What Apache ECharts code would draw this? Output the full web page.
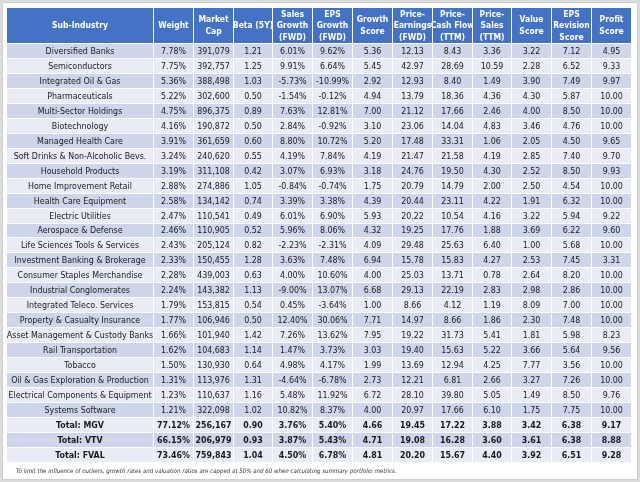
<!DOCTYPE html>
<html><head><meta charset="utf-8">
<script src="https://cdn.jsdelivr.net/npm/echarts@6/dist/echarts.min.js"></script>
<style>html,body{margin:0;padding:0;background:#dcdcdc;}#c{width:640px;height:482px;}</style>
</head><body><div id="c"></div>
<script>
const headers = ['Sub-Industry','Weight','Market\nCap','Beta (5Y)','Sales\nGrowth\n(FWD)','EPS\nGrowth\n(FWD)','Growth\nScore','Price-\nEarnings\n(FWD)','Price-\nCash Flow\n(TTM)','Price-\nSales\n(TTM)','Value\nScore','EPS\nRevision\nScore','Profit\nScore'];
const subIndustries = ['Diversified Banks','Semiconductors','Integrated Oil & Gas','Pharmaceuticals','Multi-Sector Holdings','Biotechnology','Managed Health Care','Soft Drinks & Non-Alcoholic Bevs.','Household Products','Home Improvement Retail','Health Care Equipment','Electric Utilities','Aerospace & Defense','Life Sciences Tools & Services','Investment Banking & Brokerage','Consumer Staples Merchandise','Industrial Conglomerates','Integrated Teleco. Services','Property & Casualty Insurance','Asset Management & Custody Banks','Rail Transportation','Tobacco','Oil & Gas Exploration & Production','Electrical Components & Equipment','Systems Software','Total: MGV','Total: VTV','Total: FVAL'];
const weight = [7.78,7.75,5.36,5.22,4.75,4.16,3.91,3.24,3.19,2.88,2.58,2.47,2.46,2.43,2.33,2.28,2.24,1.79,1.77,1.66,1.62,1.50,1.31,1.23,1.21,77.12,66.15,73.46];
const marketCap = [391079,392757,388498,302600,896375,190872,361659,240620,311108,274886,134142,110541,110905,205124,150455,439003,143382,153815,106946,101940,104683,130930,113976,110637,322098,256167,206979,759843];
const beta = [1.21,1.25,1.03,0.50,0.89,0.50,0.60,0.55,0.42,1.05,0.74,0.49,0.52,0.82,1.28,0.63,1.13,0.54,0.50,1.42,1.14,0.64,1.31,1.16,1.02,0.90,0.93,1.04];
const salesGrowth = [6.01,9.91,-5.73,-1.54,7.63,2.84,8.80,4.19,3.07,-0.84,3.39,6.01,5.96,-2.23,3.63,4.00,-9.00,0.45,12.40,7.26,1.47,4.98,-4.64,5.48,10.82,3.76,3.87,4.50];
const epsGrowth = [9.62,6.64,-10.99,-0.12,12.81,-0.92,10.72,7.84,6.93,-0.74,3.38,6.90,8.06,-2.31,7.48,10.60,13.07,-3.64,30.06,13.62,3.73,4.17,-6.78,11.92,8.37,5.40,5.43,6.78];
const growthScore = [5.36,5.45,2.92,4.94,7.00,3.10,5.20,4.19,3.18,1.75,4.39,5.93,4.32,4.09,6.94,4.00,6.68,1.00,7.71,7.95,3.03,1.99,2.73,6.72,4.00,4.66,4.71,4.81];
const peFwd = [12.13,42.97,12.93,13.79,21.12,23.06,17.48,21.47,24.76,20.79,20.44,20.22,19.25,29.48,15.78,25.03,29.13,8.66,14.97,19.22,19.40,13.69,12.21,28.10,20.97,19.45,19.08,20.20];
const pcfTtm = [8.43,28.69,8.40,18.36,17.66,14.04,33.31,21.58,19.50,14.79,23.11,10.54,17.76,25.63,15.83,13.71,22.19,4.12,8.66,31.73,15.63,12.94,6.81,39.80,17.66,17.22,16.28,15.67];
const psTtm = [3.36,10.59,1.49,4.36,2.46,4.83,1.06,4.19,4.30,2.00,4.22,4.16,1.88,6.40,4.27,0.78,2.83,1.19,1.86,5.41,5.22,4.25,2.66,5.05,6.10,3.88,3.60,4.40];
const valueScore = [3.22,2.28,3.90,4.30,4.00,3.46,2.05,2.85,2.52,2.50,1.91,3.22,3.69,1.00,2.53,2.64,2.98,8.09,2.30,1.81,3.66,7.77,3.27,1.49,1.75,3.42,3.61,3.92];
const epsRevisionScore = [7.12,6.52,7.49,5.87,8.50,4.76,4.50,7.40,8.50,4.54,6.32,5.94,6.22,5.68,7.45,8.20,2.86,7.00,7.48,5.98,5.64,3.56,7.26,8.50,7.75,6.38,6.38,6.51];
const profitScore = [4.95,9.33,9.97,10.00,10.00,10.00,9.65,9.70,9.93,10.00,10.00,9.22,9.60,10.00,3.31,10.00,10.00,10.00,10.00,8.23,9.56,10.00,10.00,9.76,10.00,9.17,8.88,9.28];
const footnote = 'To limit the influence of outliers, growth rates and valuation ratios are capped at 50% and 60 when calculating summary portfolio metrics.';

const numCols = [weight, marketCap, beta, salesGrowth, epsGrowth, growthScore, peFwd, pcfTtm, psTtm, valueScore, epsRevisionScore, profitScore];
const fmt = [
  v => v.toFixed(2) + '%',
  v => v.toLocaleString('en-US'),
  v => v.toFixed(2),
  v => v.toFixed(2) + '%',
  v => v.toFixed(2) + '%',
  v => v.toFixed(2), v => v.toFixed(2), v => v.toFixed(2), v => v.toFixed(2), v => v.toFixed(2), v => v.toFixed(2), v => v.toFixed(2)
];
const nRows = subIndustries.length;
const totalStart = 25;

// layout (not data)
const colWidths = [147].concat(new Array(12).fill(39.83));
const edges = [0];
colWidths.forEach(w => edges.push(edges[edges.length - 1] + w));
const headerH = 36, rowH = 14.96;
const tableW = edges[edges.length - 1];
const tableH = headerH + nRows * rowH;

const cells = [];
for (let c = 0; c < 13; c++) cells.push([c, -1]);
for (let r = 0; r < nRows; r++) for (let c = 0; c < 13; c++) cells.push([c, r]);

const FONT = "'DejaVu Sans Condensed','DejaVu Sans',sans-serif";

function cellText(c, r) {
  if (r < 0) return headers[c];
  if (c === 0) return subIndustries[r];
  return fmt[c - 1](numCols[c - 1][r]);
}

function renderItem(params, api) {
  const c = api.value(0), r = api.value(1);
  const x0 = edges[c], x1 = edges[c + 1];
  const y0 = r < 0 ? 0 : headerH + r * rowH;
  const y1 = r < 0 ? headerH : y0 + rowH;
  const p0 = api.coord([x0, y0]), p1 = api.coord([x1, y1]);
  const x = Math.round(Math.min(p0[0], p1[0])), y = Math.round(Math.min(p0[1], p1[1]));
  const xe = Math.round(Math.max(p0[0], p1[0])), ye = Math.round(Math.max(p0[1], p1[1]));
  const w = xe - x, h = ye - y;
  const isHeader = r < 0;
  const fill = isHeader ? '#4472C4' : (r % 2 === 0 ? '#CFD5EA' : '#E9EBF5');
  const bold = isHeader || r >= totalStart;
  return {
    type: 'group',
    children: [
      { type: 'rect', shape: { x: x, y: y, width: w - 1, height: h - 1 }, style: { fill: fill } },
      { type: 'text', style: {
          text: cellText(c, r), x: x + (w - 1) / 2, y: y + (h - 1) / 2 + 0.5,
          align: 'center', verticalAlign: 'middle',
          fill: isHeader ? '#ffffff' : '#1a1a1a',
          font: (bold ? 'bold ' : '') + (isHeader ? '8.5px ' : '8.8px ') + FONT,
          lineHeight: 11.7
      } }
    ]
  };
}

const chart = echarts.init(document.getElementById('c'), null, { renderer: 'canvas' });
chart.setOption({
  animation: false,
  backgroundColor: 'transparent',
  graphic: [
    { type: 'rect', z: -10, shape: { x: 2.5, y: 2.5, width: 635, height: 477 }, style: { fill: '#ffffff', stroke: '#cfcfcf', lineWidth: 1 } },
    { type: 'text', z: 10, left: 16, top: 468, style: { text: footnote, fill: '#333333', font: 'italic 6.1px ' + FONT } }
  ],
  grid: { left: 7, top: 8, width: tableW, height: tableH, containLabel: false },
  xAxis: { type: 'value', min: 0, max: tableW, show: false },
  yAxis: { type: 'value', min: 0, max: tableH, inverse: true, show: false },
  series: [{ type: 'custom', renderItem: renderItem, data: cells, encode: { x: 0, y: 1 }, clip: false }]
});
</script></body></html>
